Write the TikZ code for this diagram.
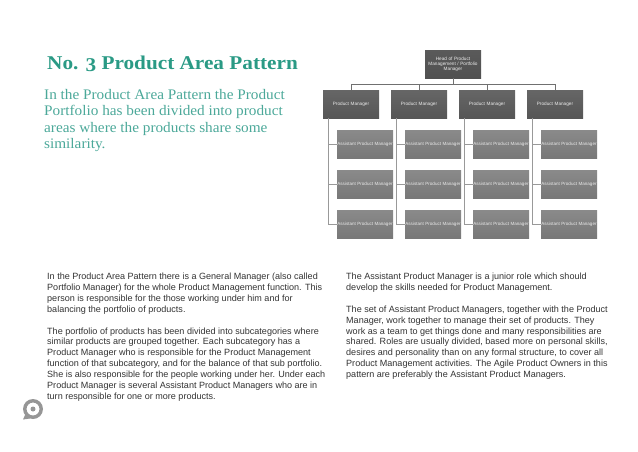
\documentclass[tikz,border=0pt]{standalone}
\usepackage{fontspec}
\setmainfont{Liberation Sans}
\newfontfamily\titleface[FakeStretch=1.09]{Liberation Serif}
\newfontfamily\introface[FakeStretch=1.045]{Liberation Serif}
\usetikzlibrary{shadows}
\definecolor{teal1}{HTML}{2A9A85}
\definecolor{teal2}{HTML}{4BA899}
\definecolor{bodyc}{HTML}{333333}
\definecolor{linec}{HTML}{999999}
\definecolor{busc}{HTML}{707070}
\definecolor{apmtop}{HTML}{8A8A8A}
\definecolor{apmbot}{HTML}{787878}
\definecolor{pmtop}{HTML}{666666}
\definecolor{pmbot}{HTML}{565656}
\definecolor{headtop}{HTML}{5A5A5A}
\definecolor{headbot}{HTML}{505050}
\definecolor{iconc}{HTML}{969696}
\tikzset{
  orgbox/.style={draw=none,minimum width=56pt,minimum height=28pt,text width=56pt,inner sep=0pt,text=white!92!black,align=center,drop shadow={shadow xshift=0pt,shadow yshift=-1pt,fill=black!30,opacity=.35}},
  headbox/.style={orgbox,top color=headtop,bottom color=headbot,font=\fontsize{4.7}{4.9}\selectfont},
  pmbox/.style={orgbox,top color=pmtop,bottom color=pmbot,font=\fontsize{4.7}{5}\selectfont},
  apmbox/.style={orgbox,top color=apmtop,bottom color=apmbot,font=\fontsize{4.55}{5}\selectfont},
  conn/.style={draw=linec,line width=0.9pt},
  conndark/.style={draw=busc,line width=0.9pt},
  txt/.style={anchor=north west,inner sep=0pt,align=left,text=bodyc,font=\fontsize{9.05}{10.85}\selectfont},
}
\begin{document}
\begin{tikzpicture}[x=1pt,y=-1pt]
\useasboundingbox (0,0) rectangle (638,451);
\node[headbox] (head) at (453,64) {Head of Product\\Management / Portfolio\\Manager};
\foreach \n/\x in {a/351,b/419,c/487,d/555}{
  \node[pmbox] (pm\n) at (\x,104) {Product Manager};
  \coordinate (bus\n) at (\x,84);
  \coordinate (v\n) at ([xshift=-23pt]pm\n.south);
  \foreach \r/\y in {1/144,2/184,3/224}{
    \node[apmbox] (ap\n\r) at (\x+14,\y) {Assistant Product Manager};
  }
}
\foreach \n in {a,b,c,d}{
  \draw[conndark] (head.south) |- (bus\n) -- (pm\n.north);
  \draw[conn] (v\n) |- (ap\n3.west);
  \draw[conn] (v\n |- ap\n1.west) -- (ap\n1.west);
  \draw[conn] (v\n |- ap\n2.west) -- (ap\n2.west);
}
\node[anchor=west,inner sep=0pt,text=teal1,font=\titleface\bfseries\fontsize{19.5}{22}\selectfont] (title) at (47,64) {No. \raisebox{-0.2ex}{3} Product Area Pattern};
\node[txt,text=teal2,font=\introface\fontsize{14.6}{16.55}\selectfont] (intro) at (44,89) {In the Product Area Pattern the Product\\Portfolio has been divided into product\\areas where the products share some\\similarity.};
\node[txt] (left) at (47,273.1) {In the Product Area Pattern there is a General Manager (also called\\Portfolio Manager) for the whole Product Management function. This\\person is responsible for the those working under him and for\\balancing the portfolio of products.\\[10.85pt]The portfolio of products has been divided into subcategories where\\similar products are grouped together. Each subcategory has a\\Product Manager who is responsible for the Product Management\\function of that subcategory, and for the balance of that sub portfolio.\\She is also responsible for the people working under her. Under each\\Product Manager is several Assistant Product Managers who are in\\turn responsible for one or more products.};
\node[txt] (right) at (346,273.1) {The Assistant Product Manager is a junior role which should\\develop the skills needed for Product Management.\\[10.85pt]The set of Assistant Product Managers, together with the Product\\Manager, work together to manage their set of products. They\\work as a team to get things done and many responsibilities are\\shared. Roles are usually divided, based more on personal skills,\\desires and personality than on any formal structure, to cover all\\Product Management activities. The Agile Product Owners in this\\pattern are preferably the Assistant Product Managers.};
\fill[iconc,even odd rule] (33,409) circle (10) (33,409) circle (6.5);
\fill[iconc] (33,409) circle (2.5);
\fill[iconc] (25.5,414) -- (23,419.5) -- (30,418.5) -- cycle;
\end{tikzpicture}
\end{document}
